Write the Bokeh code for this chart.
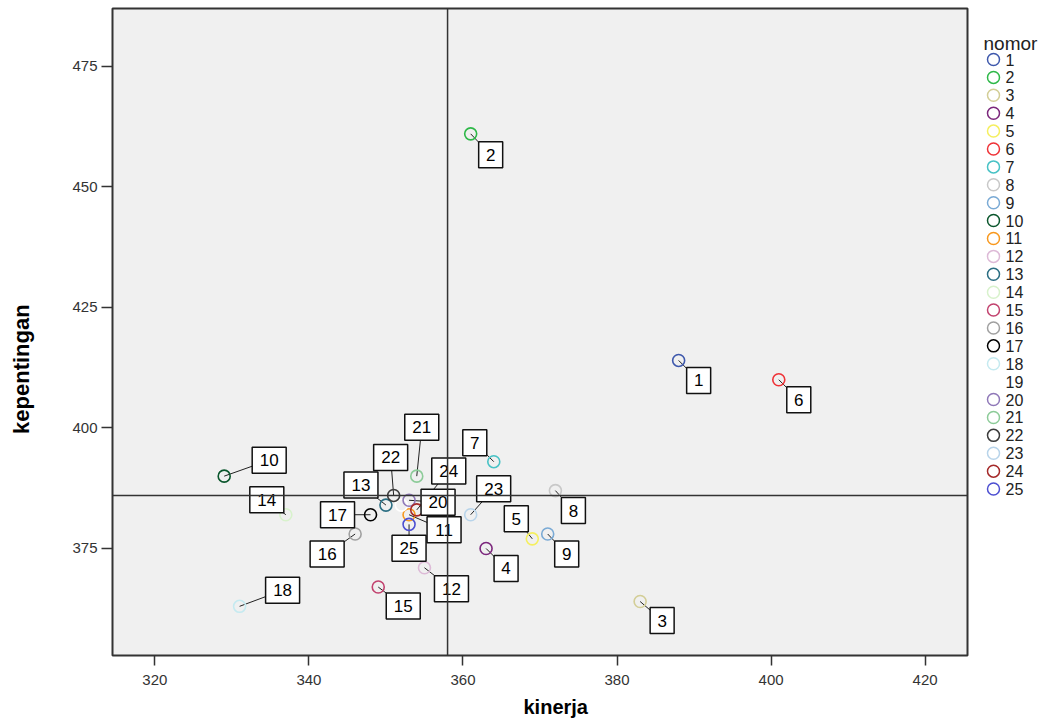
import math
from bokeh.plotting import figure
from bokeh.layouts import row
from bokeh.models import ColumnDataSource, Range1d, FixedTicker, Span, Title
from bokeh.core.properties import value
from bokeh.embed import file_html
from bokeh.resources import INLINE

# ---------------- data ----------------
nomor = [str(i) for i in range(1, 26)]
kinerja = [388, 361, 383, 363, 369, 401, 364, 372, 371, 329, 353, 355, 350,
           337, 349, 346, 348, 331, 352, 353, 354, 351, 361, 354, 353]
kepentingan = [414, 461, 364, 375, 377, 410, 393, 387, 378, 390, 382, 371, 384,
               382, 367, 378, 382, 363, 384, 385, 390, 386, 382, 383, 380]
mean_kinerja = 358
mean_kepentingan = 386
x_ticks = [320, 340, 360, 380, 400, 420]
y_ticks = [375, 400, 425, 450, 475]
x_title = "kinerja"
y_title = "kepentingan"
legend_title = "nomor"

# ---------------- styles ----------------
colors = ["#3e58ac", "#2eb848", "#d3ce97", "#7c287d", "#f5ef60", "#ef3338",
          "#48c2c5", "#c8c8c8", "#7aaad5", "#0a562c", "#f8981d", "#ddbad7",
          "#2b6e83", "#d8f2cc", "#c2436f", "#a0a0a0", "#000000", "#c5eaf0",
          "#ffffff", "#8f78b8", "#8ccb98", "#3c3c3c", "#b8d4ea", "#a52a2a",
          "#4d4fd1"]
# label box offsets from the point, in screen pixels (right, down); None = no label
label_offsets = [(20, 20), (20, 21), (22, 19), (20, 20), (-16, -20), (20, 20),
                 (-19, -19), (18, 20), (19, 20), (45, -16), (35, 15), (27, 21),
                 (-25, -20), (-19, -15), (25, 19), (-28, 20), (-33, 0), (43, -16),
                 None, (29, 2), (5, -49), (-3, -38), (23, -26), (32, -39), (0, 24)]

X0, X1 = 314.5, 425.5
Y0, Y1 = 352.8, 487.0
H = 723
TW = 40                      # strip holding the vertical axis title
LEFT, RIGHT, TOP, BOTTOM = 72, 2, 8, 68
FW = 855
W = LEFT + FW + RIGHT
LW = 1055 - TW - W
FH = H - TOP - BOTTOM
ux = (X1 - X0) / FW
uy = (Y1 - Y0) / FH

p = figure(width=W, height=H, output_backend="svg", toolbar_location=None,
           x_range=Range1d(X0, X1), y_range=Range1d(Y0, Y1),
           min_border_left=LEFT, min_border_right=RIGHT,
           min_border_top=TOP, min_border_bottom=BOTTOM)
p.background_fill_color = "#f0f0f0"
p.border_fill_color = "white"
p.outline_line_color = "#333333"
p.outline_line_width = 2
p.xgrid.visible = False
p.ygrid.visible = False

for ax in (p.xaxis[0], p.yaxis[0]):
    ax.axis_line_color = None
    ax.major_tick_line_color = "#333333"
    ax.major_tick_line_width = 1.5
    ax.major_tick_out = 11
    ax.major_tick_in = 0
    ax.minor_tick_line_color = None
    ax.major_label_text_font = "Liberation Sans"
    ax.major_label_text_font_size = "15px"
    ax.major_label_text_color = "#333333"
p.xaxis.major_tick_out = 10
p.xaxis.major_label_standoff = 9
p.yaxis.major_label_standoff = 4
p.xaxis.ticker = FixedTicker(ticks=x_ticks)
p.yaxis.ticker = FixedTicker(ticks=y_ticks)

p.add_layout(Title(text=x_title, align="left", offset=411, standoff=12,
                   text_font="Liberation Sans", text_font_size="20px",
                   text_font_style="bold", text_color="black"), "below")

p.add_layout(Span(location=mean_kinerja, dimension="height", line_color="#333333", line_width=1.5))
p.add_layout(Span(location=mean_kepentingan, dimension="width", line_color="#333333", line_width=1.5))

# label positions derived from the points plus screen offsets
lx, ly, lt, px, py, bw = [], [], [], [], [], []
for i, off in enumerate(label_offsets):
    if off is None:
        continue
    px.append(kinerja[i])
    py.append(kepentingan[i])
    lx.append(kinerja[i] + off[0] * ux)
    ly.append(kepentingan[i] - off[1] * uy)
    lt.append(nomor[i])
    bw.append(24 if len(nomor[i]) == 1 else 34)
lab = ColumnDataSource(dict(px=px, py=py, lx=lx, ly=ly, t=lt, bw=bw))

p.segment(x0="px", y0="py", x1="lx", y1="ly", source=lab, line_color="#222222", line_width=1)

src = ColumnDataSource(dict(x=kinerja, y=kepentingan, c=colors, n=nomor))
p.scatter(x="x", y="y", source=src, size=12, marker="circle",
          fill_color=None, line_color="c", line_width=1.6)

p.rect(x="lx", y="ly", width="bw", height=26, width_units="screen", height_units="screen",
       source=lab, fill_color="white", line_color="#111111", line_width=1.5)
p.text(x="lx", y="ly", text="t", source=lab, text_align="center", text_baseline="middle",
       text_font=value("Liberation Sans"), text_font_size="17px", text_color="black")


def strip(width):
    f = figure(width=width, height=H, output_backend="svg", toolbar_location=None,
               x_range=Range1d(0, width), y_range=Range1d(H, 0),
               min_border_left=0, min_border_right=0, min_border_top=0, min_border_bottom=0)
    f.axis.visible = False
    f.grid.visible = False
    f.outline_line_color = None
    f.background_fill_color = "white"
    f.border_fill_color = "white"
    return f


# ---------------- vertical axis title strip (screen pixels, y downward) ----------------
ytl = strip(TW)
ytl.text(x=[21], y=[403], text=[y_title], angle=math.pi / 2, text_align="center",
         text_baseline="middle", text_font=value("Liberation Sans"), text_font_size="22px",
         text_font_style="bold", text_color="black")

# ---------------- legend panel (screen pixels, y downward) ----------------
leg = strip(LW)
row_y = [57 + 20 * i for i in range(len(nomor))]
leg_src = ColumnDataSource(dict(y=row_y, c=colors, n=nomor))
leg.scatter(x=24, y="y", source=leg_src, size=12, marker="circle",
            fill_color=None, line_color="c", line_width=1.5)
leg.text(x=36, y="y", text="n", source=leg_src, text_align="left", text_baseline="middle",
         text_font=value("Liberation Sans"), text_font_size="16px", text_color="#222222")
leg.text(x=14, y=[39], text=[legend_title], text_align="left", text_baseline="middle",
         text_font=value("Liberation Sans"), text_font_size="19px", text_color="#222222")

layout = row(ytl, p, leg)
open("out.html", "w").write(file_html(layout, INLINE))
